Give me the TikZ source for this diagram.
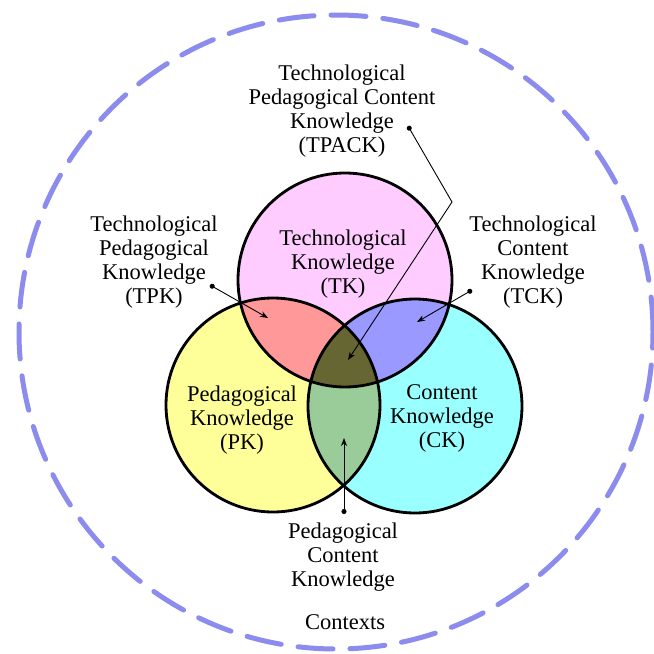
\documentclass[tikz,border=0pt]{standalone}
\usepackage{fontspec}
\setmainfont{Liberation Serif}
\usetikzlibrary{arrows.meta}

\def\circleradius{107}
\definecolor{tkcolor}{RGB}{255, 204, 255}
\definecolor{pkcolor}{RGB}{255, 255, 153}
\definecolor{ckcolor}{RGB}{153, 255, 255}
\definecolor{tpkcolor}{RGB}{255, 153, 153}
\definecolor{tckcolor}{RGB}{153, 153, 255}
\definecolor{pckcolor}{RGB}{153, 204, 153}
\definecolor{tpackcolor}{RGB}{102, 102, 51}
\definecolor{contextcolor}{RGB}{140, 140, 238}

\begin{document}
\begin{tikzpicture}[x=1pt, y=-1pt,
    knowledge/.style={circle, minimum size=2*\circleradius pt, inner sep=0pt},
    rim/.style={draw, line width=2.8pt, black},
    caption/.style={align=center, font=\fontsize{22.5}{24}\selectfont, inner sep=0pt},
    pointer/.style={{Circle[length=5pt]}-{Stealth[length=8pt, width=6pt]}, line width=0.9pt},
    context/.style={draw, dash pattern=on 35pt off 17pt, line cap=round, line width=5pt, contextcolor}
    ]
    \useasboundingbox (0,0) rectangle (654,654);

    % Contexts
    \node[circle, minimum size=634pt, inner sep=0pt, context] (ctx) at (336,332) {};

    % Define knowledge circles
    \node[knowledge, fill=tkcolor] (tk) at (345,280) {};
    \node[knowledge, fill=pkcolor] (pk) at (273,405) {};
    \node[knowledge, fill=ckcolor] (ck) at (415,406) {};

    % Overlaps
    \begin{scope}
        \clip (pk.center) circle (\circleradius);
        \fill[pckcolor] (ck.center) circle (\circleradius);
    \end{scope}
    \begin{scope}
        \clip (tk.center) circle (\circleradius);
        \fill[tpkcolor] (pk.center) circle (\circleradius);
        \fill[tckcolor] (ck.center) circle (\circleradius);
        \clip (pk.center) circle (\circleradius);
        \fill[tpackcolor] (ck.center) circle (\circleradius);
    \end{scope}
    \foreach \name in {tk, pk, ck}
        \draw[rim] (\name.center) circle (\circleradius);

    % Labels
    \node[caption] (tktext) at (343,264) {Technological\\Knowledge\\(TK)};
    \node[caption] (pktext) at (242,420) {Pedagogical\\Knowledge\\(PK)};
    \node[caption] (cktext) at (442,418) {Content\\Knowledge\\(CK)};
    \node[caption] (tpacktext) at (342,111) {Technological\\Pedagogical Content\\Knowledge\\(TPACK)};
    \node[caption] (tpktext) at (154,262) {Technological\\Pedagogical\\Knowledge\\(TPK)};
    \node[caption] (tcktext) at (533,262) {Technological\\Content\\Knowledge\\(TCK)};
    \node[caption] (pcktext) at (343,557) {Pedagogical\\Content\\Knowledge};
    \node[caption] (ctxtext) at (345,622) {Contexts};

    % Pointers
    \coordinate (tpackdot) at (408,126);
    \coordinate (tpackbend) at (452,202);
    \coordinate (tpacktip) at (348,360);
    \coordinate (tpkdot) at (210,285);
    \coordinate (tpktip) at (268,318);
    \coordinate (tckdot) at (472,290);
    \coordinate (tcktip) at (417,322);
    \coordinate (pckdot) at (344,514);
    \coordinate (pcktip) at (344,438);

    \draw[pointer] (tpackdot) -- (tpackbend) -- (tpacktip);
    \draw[pointer] (tpkdot) -- (tpktip);
    \draw[pointer] (tckdot) -- (tcktip);
    \draw[pointer] (pckdot) -- (pcktip);
\end{tikzpicture}
\end{document}
